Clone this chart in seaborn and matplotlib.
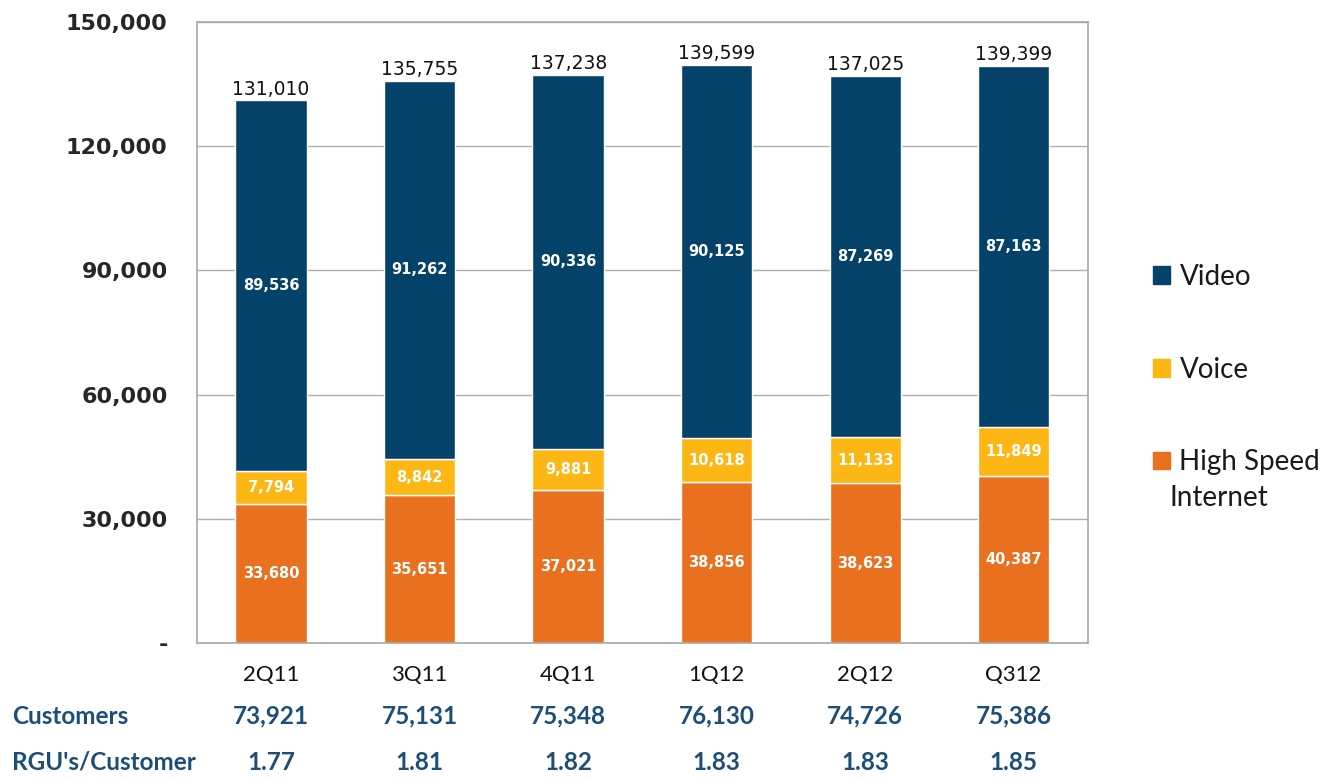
import numpy as np
import seaborn as sns
import matplotlib.pyplot as plt
from matplotlib.patches import Patch
from matplotlib.transforms import blended_transform_factory

quarters = ['2Q11', '3Q11', '4Q11', '1Q12', '2Q12', 'Q312']
hsi = [33680, 35651, 37021, 38856, 38623, 40387]
voice = [7794, 8842, 9881, 10618, 11133, 11849]
video = [89536, 91262, 90336, 90125, 87269, 87163]
totals = [131010, 135755, 137238, 139599, 137025, 139399]
customers = ['73,921', '75,131', '75,348', '76,130', '74,726', '75,386']
rgu = ['1.77', '1.81', '1.82', '1.83', '1.83', '1.85']

C_VIDEO = '#05426a'
C_VOICE = '#fdb714'
C_HSI = '#e8701e'
BLUE_TXT = '#1d4e78'
LATO = ['Lato', 'DejaVu Sans']

sns.set_style('white')
plt.rcParams['font.family'] = ['DejaVu Sans']

fig = plt.figure(figsize=(13.3, 7.78), dpi=100)
ax = fig.add_axes([0.148, 0.1735, 0.670, 0.7985])

hsi_arr, voice_arr = np.array(hsi), np.array(voice)
sns.barplot(x=quarters, y=hsi, color=C_HSI, width=0.48, ax=ax, saturation=1)
sns.barplot(x=quarters, y=voice, bottom=hsi_arr, color=C_VOICE, width=0.48, ax=ax, saturation=1)
sns.barplot(x=quarters, y=video, bottom=hsi_arr + voice_arr, color=C_VIDEO, width=0.48, ax=ax, saturation=1)

conts = ax.containers
seg_kw = dict(label_type='center', color='white', fontsize=10.5, fontweight='bold')
ax.bar_label(conts[0], labels=[f'{v:,}' for v in hsi], **seg_kw)
ax.bar_label(conts[1], labels=[f'{v:,}' for v in voice], **seg_kw)
ax.bar_label(conts[2], labels=[f'{v:,}' for v in video], **seg_kw)
ax.bar_label(conts[2], labels=[f'{v:,}' for v in totals], padding=1,
             fontsize=13.5, color='#111111')

ax.set_ylim(0, 150000)
ax.set_xlim(-0.5, 5.5)
ax.set_yticks(np.arange(0, 150001, 30000))
ax.set_yticklabels(['-'] + [f'{v:,}' for v in range(30000, 150001, 30000)],
                   fontsize=16, fontweight='bold')
ax.tick_params(axis='y', pad=21, length=0)
ax.tick_params(axis='x', length=0, pad=16)
ax.set_xticks(range(len(quarters)))
ax.set_xticklabels(quarters, fontsize=16, family=LATO, color='#111111')
ax.yaxis.grid(True, color='#b0b0b0', linewidth=1)
ax.set_axisbelow(True)
for s in ax.spines.values():
    s.set_color('#a8a8a8')
    s.set_linewidth(1.2)

trans = blended_transform_factory(ax.transData, fig.transFigure)
row_kw = dict(ha='center', va='center', fontsize=17.5, fontweight='bold',
              color=BLUE_TXT, family=LATO)
for i in range(len(quarters)):
    ax.text(i, 1 - 716 / 778, customers[i], transform=trans, **row_kw)
    ax.text(i, 1 - 762 / 778, rgu[i], transform=trans, **row_kw)
fig.text(12 / 1330, 1 - 716 / 778, 'Customers', ha='left', va='center',
         fontsize=17.5, fontweight='bold', color=BLUE_TXT, family=LATO)
fig.text(12 / 1330, 1 - 762 / 778, "RGU's/Customer", ha='left', va='center',
         fontsize=17.5, fontweight='bold', color=BLUE_TXT, family=LATO)

handles = [Patch(color=C_VIDEO), Patch(color=C_VOICE), Patch(color=C_HSI)]
ax.legend(handles, ['Video', 'Voice', 'High Speed'], loc='center left',
          bbox_to_anchor=(1.045, 0.44), frameon=False, handlelength=0.6,
          handleheight=0.6, handletextpad=0.35, labelspacing=2.4,
          prop={'family': LATO, 'size': 20}, labelcolor='#1a1a1a')
fig.text(1170 / 1330, 1 - 498 / 778, 'Internet', ha='left', va='center',
         fontsize=20, family=LATO, color='#1a1a1a')

fig.savefig('out.png', dpi=100)
